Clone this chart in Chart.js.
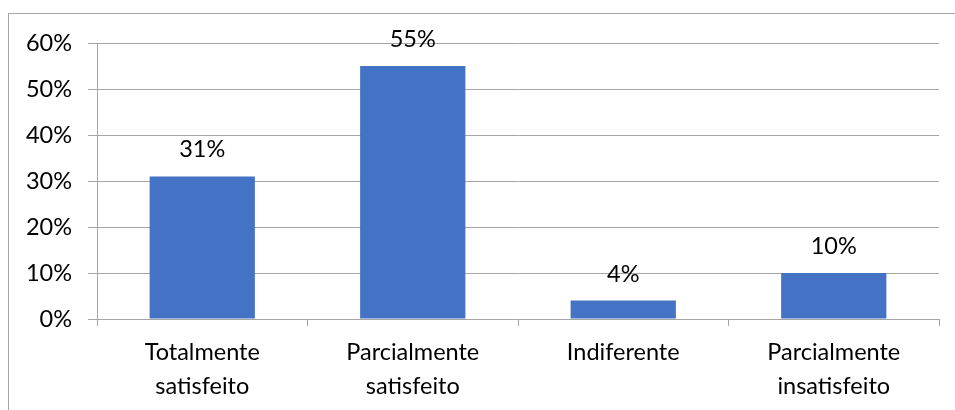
<!DOCTYPE html>
<html>
<head>
<meta charset="utf-8">
<script src="https://cdn.jsdelivr.net/npm/chart.js@4"></script>
<style>
    html, body { margin: 0; padding: 0; background: #fff; overflow: hidden; }
    #wrap { position: relative; width: 955px; height: 410px; }
    #frame {
        position: absolute; left: 8px; top: 13px;
        width: 1200px; height: 600px;
        border: 1px solid #a6a6a6;
        box-sizing: border-box;
    }
    #chart { position: absolute; left: 0; top: 0; }
</style>
</head>
<body>
<div id="wrap">
    <div id="frame"></div>
    <canvas id="chart" width="955" height="410"></canvas>
</div>
<script>
const categories = [
    ['Totalmente', 'satisfeito'],
    ['Parcialmente', 'satisfeito'],
    ['Indiferente'],
    ['Parcialmente', 'insatisfeito']
];
const percentages = [31, 55, 4, 10];
const yTicks = [0, 10, 20, 30, 40, 50, 60];

const fontFamily = "Lato, 'Open Sans', sans-serif";
const fontSize = 23.5;
const gridColor = '#a6a6a6';

// value labels drawn above each bar
const barLabels = {
    id: 'barLabels',
    afterDatasetsDraw(chart) {
        const ctx = chart.ctx;
        const meta = chart.getDatasetMeta(0);
        ctx.save();
        ctx.font = `${fontSize}px ${fontFamily}`;
        ctx.fillStyle = '#000';
        ctx.textAlign = 'center';
        ctx.textBaseline = 'alphabetic';
        meta.data.forEach((bar, i) => {
            ctx.fillText(percentages[i] + '%', bar.x, bar.y - 19);
        });
        ctx.restore();
    }
};

new Chart(document.getElementById('chart').getContext('2d'), {
    type: 'bar',
    data: {
        labels: categories,
        datasets: [{
            data: percentages,
            backgroundColor: '#4472c4',
            borderWidth: 0,
            categoryPercentage: 1,
            barPercentage: 0.5
        }]
    },
    options: {
        responsive: false,
        animation: false,
        layout: { padding: { left: 0, top: 43, right: 16, bottom: 0 } },
        plugins: {
            legend: { display: false },
            tooltip: { enabled: false }
        },
        scales: {
            x: {
                afterFit(scale) { scale.height = 91; },
                grid: {
                    offset: true,
                    drawOnChartArea: false,
                    tickLength: 7,
                    color: gridColor
                },
                border: { color: gridColor },
                ticks: {
                    color: '#000',
                    padding: 9,
                    maxRotation: 0,
                    autoSkip: false,
                    font: { family: fontFamily, size: fontSize, lineHeight: 1.45 }
                }
            },
            y: {
                min: 0,
                max: 60,
                afterFit(scale) { scale.width = 97; },
                afterBuildTicks(scale) {
                    scale.ticks = yTicks.map(v => ({ value: v }));
                },
                grid: { color: gridColor, tickLength: 9 },
                border: { color: gridColor },
                ticks: {
                    color: '#000',
                    padding: 16,
                    callback: v => v + '%',
                    font: { family: fontFamily, size: fontSize }
                }
            }
        }
    },
    plugins: [barLabels]
});
</script>
</body>
</html>
